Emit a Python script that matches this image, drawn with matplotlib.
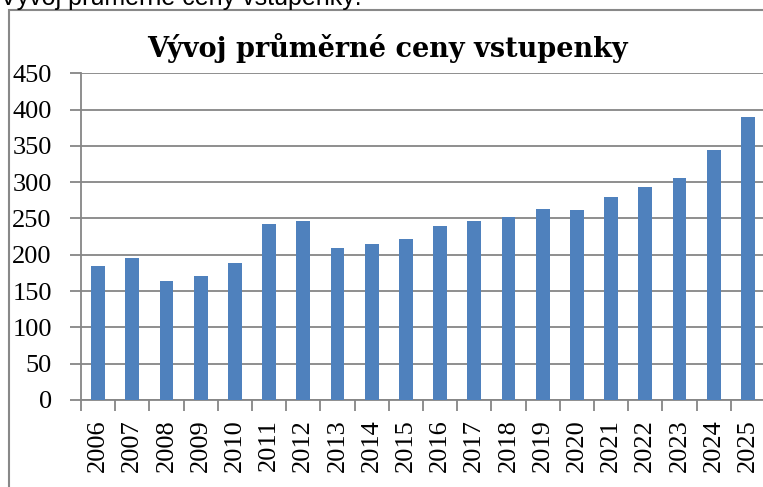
import matplotlib.pyplot as plt
from matplotlib.patches import Rectangle

years = [str(y) for y in range(2006, 2026)]
prices = [185, 196, 164, 171, 189, 243, 247, 210, 215, 222,
          240, 247, 252, 263, 262, 279, 293, 306, 344, 390]
y_ticks = [0, 50, 100, 150, 200, 250, 300, 350, 400, 450]

W, H = 763, 487
fig = plt.figure(figsize=(W / 100, H / 100), dpi=100)

# text above the chart, cut off by the top edge
fig.text(0, 1 - 5 / H, "Vývoj průměrné ceny vstupenky:",
         fontsize=18, family="Liberation Sans", va="baseline", ha="left")

# chart frame
fig.patches.append(Rectangle((9 / W, -0.1), 1.0, 1.1 - 10 / H,
                             transform=fig.transFigure, fill=False,
                             edgecolor="#888888", linewidth=1.5))

ax = fig.add_axes([81 / W, 1 - 400 / H, 684 / W, (400 - 73.3) / H])

x = range(len(years))
ax.bar(x, prices, width=0.4, color="#4F81BD", zorder=3)

ax.set_xlim(-0.5, len(years) - 0.5)
ax.set_ylim(0, 450)
ax.set_yticks(y_ticks)
ax.yaxis.grid(True, color="#868686", linewidth=1.3, zorder=0)

ax.set_xticks([i - 0.5 for i in range(len(years) + 1)], minor=False)
ax.set_xticklabels([])
ax.set_xticks(list(x), minor=True)
ax.set_xticklabels(years, minor=True, rotation=90)
ax.tick_params(axis="x", which="major", length=8, color="#868686", width=1.3)
ax.tick_params(axis="x", which="minor", length=0, pad=14,
               labelsize=19, labelfontfamily="Liberation Serif")
ax.tick_params(axis="y", length=8, color="#868686", width=1.3,
               labelsize=19, labelfontfamily="Liberation Serif", pad=13)

for s in ["top", "right"]:
    ax.spines[s].set_visible(False)
for s in ["left", "bottom"]:
    ax.spines[s].set_color("#868686")
    ax.spines[s].set_linewidth(1.3)

fig.text(387 / W, 1 - 57 / H, "Vývoj průměrné ceny vstupenky",
         fontsize=19.5, fontweight="bold", family="DejaVu Serif",
         ha="center", va="baseline")

fig.savefig("out.png", dpi=100)
